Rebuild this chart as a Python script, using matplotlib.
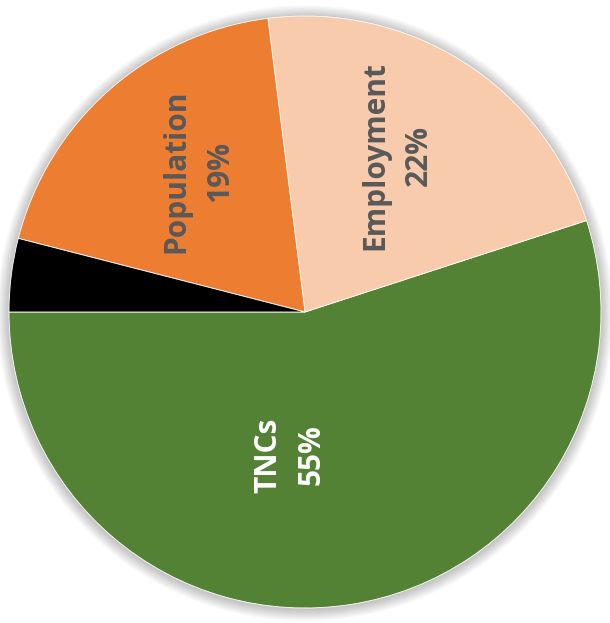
# plot.py
# pie chart of shares: TNCs / Employment / Population / other

import numpy as np
import matplotlib
matplotlib.use("Agg")
from matplotlib import pyplot as plt
from matplotlib.patches import Circle

labels = ["TNCs", "Employment", "Population", ""]
shares = [55, 22, 19, 4]
colors = ["#548235", "#F8CBAD", "#ED7D31", "#000000"]
text_colors = ["white", "#595959", "#595959", "black"]

plt.rcParams["font.family"] = ["Open Sans", "DejaVu Sans"]

fig = plt.figure(figsize=(6.10, 6.23), dpi=100)
ax = fig.add_axes([0, 0, 1, 1])

# pixel layout: centre (305, 312), radius 296
R = 296.0

# soft shadow round the pie
for i in range(10):
    ax.add_patch(Circle((0, -0.004), 1.0 + 0.004 * (i + 1), color="black",
                        alpha=0.025, lw=0, zorder=0))

wedges, _ = ax.pie(shares, colors=colors, startangle=180, counterclock=True,
                   radius=1.0, center=(0, 0), frame=True,
                   wedgeprops=dict(edgecolor="white", linewidth=0.6))
ax.set_xlim(-305 / R, (610 - 305) / R)
ax.set_ylim(-(623 - 312) / R, 312 / R)
ax.set_aspect("equal")
ax.axis("off")

# labels, rotated 90 degrees inside the slices (best-fit placement)
dist = [0.486, 0.612, 0.598]
turn = [-15.0, 1.9, -4.2]
for w, lab, val, tc, d, t in zip(wedges, labels, shares, text_colors, dist, turn):
    mid = np.deg2rad((w.theta1 + w.theta2) / 2 + t)
    ax.text(d * np.cos(mid), d * np.sin(mid), f"{lab}\n{val}%",
            rotation=90, ha="center", va="center", color=tc,
            fontsize=21.5, fontweight="bold", linespacing=1.6, zorder=5)

plt.savefig("out.png", dpi=100)
